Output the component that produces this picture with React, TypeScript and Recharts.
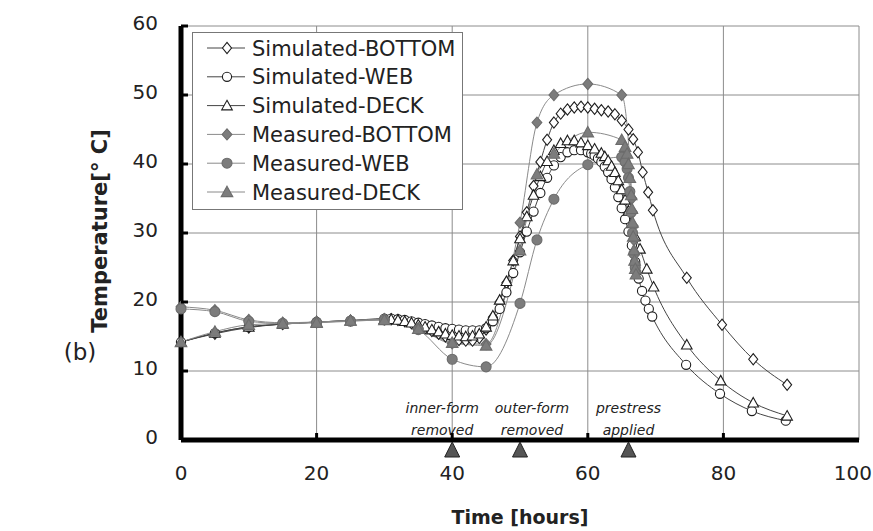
import React from 'react';
import { ComposedChart, Line, Scatter, XAxis, YAxis, CartesianGrid } from 'recharts';

const FONT = '"DejaVu Sans", Verdana, sans-serif';

// ---------- data ----------
const xTicks = [0, 20, 40, 60, 80, 100];
const yTicks = [0, 10, 20, 30, 40, 50, 60];

const seriesNames = [
  'Simulated-BOTTOM',
  'Simulated-WEB',
  'Simulated-DECK',
  'Measured-BOTTOM',
  'Measured-WEB',
  'Measured-DECK',
];

const simBottomHours = [0, 5, 10, 15, 20, 25, 30, 31, 32, 33, 34, 35, 36, 37, 38, 39, 40, 41, 42, 43, 44, 45, 46, 47, 48, 49, 50, 51, 52, 53, 54, 55, 56, 57, 58, 59, 60, 61, 62, 63, 64, 65, 66, 66.7, 67.4, 68.1, 68.9, 69.6, 74.6, 79.8, 84.4, 89.4];
const simBottomTemps = [14.2, 15.4, 16.3, 16.8, 17.1, 17.3, 17.5, 17.5, 17.4, 17.2, 16.9, 16.6, 16.2, 15.8, 15.4, 15.0, 14.7, 14.5, 14.4, 14.4, 14.8, 16.0, 17.8, 20.0, 22.8, 26.0, 29.5, 33.0, 36.8, 40.3, 43.5, 46.0, 47.3, 47.9, 48.2, 48.3, 48.2, 48.0, 47.8, 47.6, 47.2, 46.3, 45.0, 43.6, 41.7, 38.8, 35.9, 33.3, 23.5, 16.7, 11.7, 8.0];

const simWebHours = [0, 5, 10, 15, 20, 25, 30, 31, 32, 33, 34, 35, 36, 37, 38, 39, 40, 41, 42, 43, 44, 45, 46, 47, 48, 49, 50, 51, 52, 53, 54, 55, 56, 57, 58, 59, 60, 60.5, 61, 61.5, 62, 62.5, 63, 63.5, 64, 64.5, 65, 65.5, 66, 66.5, 67, 67.5, 68, 68.5, 69, 69.5, 74.5, 79.5, 84.2, 89.2];
const simWebTemps = [14.2, 15.5, 16.4, 16.8, 17.1, 17.3, 17.6, 17.6, 17.5, 17.4, 17.2, 17.0, 16.8, 16.6, 16.4, 16.2, 16.1, 16.0, 15.9, 15.9, 15.9, 16.2, 17.2, 19.0, 21.4, 24.2, 27.2, 30.2, 33.1, 35.8, 38.0, 39.8, 41.0, 41.7, 42.0, 42.0, 41.7, 41.5, 41.2, 40.8, 40.3, 39.6, 38.8, 37.8, 36.6, 35.2, 33.6, 32.0, 30.2, 28.2, 25.8, 23.4, 21.6, 20.2, 19.0, 17.9, 10.9, 6.7, 4.2, 2.8];

const simDeckHours = [0, 5, 10, 15, 20, 25, 30, 31, 32, 33, 34, 35, 36, 37, 38, 39, 40, 41, 42, 43, 44, 45, 46, 47, 48, 49, 50, 51, 52, 53, 54, 55, 56, 57, 58, 59, 60, 61, 62, 62.5, 63, 63.5, 64, 64.5, 65, 65.5, 66, 66.5, 67, 67.7, 68.7, 69.7, 74.6, 79.6, 84.4, 89.4];
const simDeckTemps = [14.2, 15.5, 16.4, 16.8, 17.1, 17.3, 17.5, 17.5, 17.4, 17.2, 17.0, 16.7, 16.4, 16.0, 15.7, 15.4, 15.2, 15.1, 15.0, 15.1, 15.4, 16.4, 18.0, 20.3, 23.0, 26.0, 29.2, 32.4, 35.5, 38.2, 40.4, 42.0, 43.0, 43.4, 43.4, 43.1, 42.7, 42.2, 41.6, 41.1, 40.5, 39.7, 38.8, 37.6, 36.3, 34.8, 33.2, 31.4, 29.5, 27.7, 24.8, 22.2, 13.8, 8.6, 5.4, 3.5];

const measBottomHours = [0, 5, 10, 15, 20, 25, 30, 35, 40, 45, 50, 52.5, 55, 60, 65, 66.5, 66.6, 66.7, 66.8, 66.9, 67.0, 67.1];
const measBottomTemps = [19.3, 18.8, 17.4, 17.0, 17.1, 17.3, 17.5, 16.2, 14.0, 13.9, 31.5, 46.0, 50.0, 51.6, 50.0, 35.0, 33.0, 31.0, 29.0, 27.0, 25.5, 24.5];

const measWebHours = [0, 5, 10, 15, 20, 25, 30, 35, 40, 45, 50, 52.5, 55, 60, 65, 65.5, 65.8, 66.0, 66.2, 66.4, 66.6, 66.8, 67.0];
const measWebTemps = [19.0, 18.6, 17.2, 16.9, 17.0, 17.2, 17.4, 16.0, 11.7, 10.6, 19.8, 29.0, 34.9, 39.9, 41.0, 40.3, 39.3, 38.0, 36.0, 33.0, 30.0, 27.0, 25.0];

const measDeckHours = [0, 5, 10, 15, 20, 25, 30, 35, 40, 45, 50, 52.5, 55, 60, 65, 65.5, 65.8, 66.0, 66.2, 66.4, 66.5, 66.6, 66.7, 66.8, 66.9, 67.0, 67.1];
const measDeckTemps = [14.2, 15.7, 16.7, 16.9, 17.0, 17.3, 17.4, 16.1, 14.1, 13.7, 27.5, 38.5, 41.5, 44.6, 43.5, 42.5, 41.5, 40.0, 38.0, 35.5, 33.5, 31.5, 29.5, 27.5, 26.0, 24.8, 24.0];

const eventHours = [40, 50, 66];
const eventLabels = [
  ['inner-form', 'removed'],
  ['outer-form', 'removed'],
  ['prestress', 'applied'],
];

// ---------- styling ----------
const seriesShapes = ['diamond', 'circle', 'triangle', 'diamond', 'circle', 'triangle'];
const seriesFilled = [false, false, false, true, true, true];
const eventLabelDx = [-10, 12, 0];

const SIM_STROKE = '#1e1e1e';
const SIM_LINE = '#444';
const MEAS_FILL = '#7c7c7c';
const MEAS_STROKE = '#6c6c6c';
const MEAS_LINE = '#8a8a8a';

const zip = (h: number[], v: number[]) => h.map((t, i) => ({ t, v: v[i] }));
const seriesData = [
  zip(simBottomHours, simBottomTemps),
  zip(simWebHours, simWebTemps),
  zip(simDeckHours, simDeckTemps),
  zip(measBottomHours, measBottomTemps),
  zip(measWebHours, measWebTemps),
  zip(measDeckHours, measDeckTemps),
];
const eventData = eventHours.map((t, i) => ({ t, v: 0, i }));

function Marker({ shape, filled, cx, cy }: { shape: string; filled: boolean; cx: number; cy: number }) {
  if (cx == null || cy == null || isNaN(cx) || isNaN(cy)) return null;
  const fill = filled ? MEAS_FILL : '#fff';
  const stroke = filled ? MEAS_STROKE : SIM_STROKE;
  const sw = 1.1;
  if (shape === 'circle') {
    return <circle cx={cx} cy={cy} r={filled ? 5 : 4.6} fill={fill} stroke={stroke} strokeWidth={sw} />;
  }
  if (shape === 'diamond') {
    const h = 5.6;
    const w = filled ? 4.9 : 4.5;
    return <path d={`M${cx},${cy - h}L${cx + w},${cy}L${cx},${cy + h}L${cx - w},${cy}Z`} fill={fill} stroke={stroke} strokeWidth={sw} />;
  }
  const s = filled ? 5.8 : 5.3;
  return <path d={`M${cx},${cy - s}L${cx + s},${cy + s * 0.8}L${cx - s},${cy + s * 0.8}Z`} fill={fill} stroke={stroke} strokeWidth={sw} />;
}

const XTick = (p: any) => {
  const v = p.payload.value;
  const last = v === 100;
  return (
    <g>
      {v > 0 && v < 100 && <line x1={p.x} x2={p.x} y1={p.y - 25} y2={p.y - 32} stroke="#000" strokeWidth={3} />}
      <text
        x={last ? p.x + 13 : p.x}
        y={p.y + 15}
        textAnchor={last ? 'end' : 'middle'}
        fontSize={20}
        fontFamily={FONT}
        fill="#222"
      >
        {v}
      </text>
    </g>
  );
};

const YTick = (p: any) => {
  const v = p.payload.value;
  return (
    <g>
      {v > 0 && <line x1={p.x + 23} x2={p.x + 30} y1={p.y} y2={p.y} stroke="#000" strokeWidth={3} />}
      <text x={p.x} y={p.y + 4} textAnchor="end" fontSize={20} fontFamily={FONT} fill="#222">{v}</text>
    </g>
  );
};

const EventMark = (p: any) => {
  const { cx, cy } = p;
  const i = p.payload?.i ?? p.i ?? 0;
  const dx = eventLabelDx[i];
  const lines = eventLabels[i];
  return (
    <g>
      <path d={`M${cx},${cy + 2}L${cx + 7.5},${cy + 17}L${cx - 7.5},${cy + 17}Z`} fill="#555" stroke="#222" strokeWidth={1} />
      <text x={cx + dx} y={cy - 27} textAnchor="middle" fontSize={14} fontStyle="italic" fontFamily={FONT} fill="#222">{lines[0]}</text>
      <text x={cx + dx} y={cy - 5} textAnchor="middle" fontSize={14} fontStyle="italic" fontFamily={FONT} fill="#222">{lines[1]}</text>
    </g>
  );
};

export default function App() {
  return (
    <div style={{ position: 'absolute', left: 0, top: 0, width: 873, height: 531, background: '#fff', fontFamily: FONT }}>
      <ComposedChart width={873} height={531} margin={{ top: 26, right: 14, bottom: 31, left: 0 }}>
        <CartesianGrid stroke="#8c8c8c" strokeWidth={1} />
        <XAxis
          type="number"
          dataKey="t"
          domain={[0, 100]}
          ticks={xTicks}
          height={60}
          tickSize={0}
          tickMargin={25}
          tickLine={false}
          tick={XTick}
          axisLine={{ stroke: '#000', strokeWidth: 5 }}
          allowDuplicatedCategory={false}
        />
        <YAxis
          type="number"
          domain={[0, 60]}
          ticks={yTicks}
          width={181}
          tickSize={0}
          tickMargin={23}
          tickLine={false}
          tick={YTick}
          axisLine={{ stroke: '#000', strokeWidth: 5 }}
        />
        {seriesData.map((d, idx) => (
          <Line
            key={seriesNames[idx]}
            name={seriesNames[idx]}
            data={d}
            dataKey="v"
            type="monotone"
            stroke={seriesFilled[idx] ? MEAS_LINE : SIM_LINE}
            strokeWidth={1}
            isAnimationActive={false}
            dot={(p: any) => (
              <Marker key={`m-${idx}-${p.index}`} shape={seriesShapes[idx]} filled={seriesFilled[idx]} cx={p.cx} cy={p.cy} />
            )}
            activeDot={false}
          />
        ))}
        <Scatter data={eventData} dataKey="v" shape={EventMark} isAnimationActive={false} />
      </ComposedChart>
      <svg width={873} height={531} style={{ position: 'absolute', left: 0, top: 0, pointerEvents: 'none' }}>
        <text x={80} y={360} textAnchor="middle" fontSize={23} fontFamily={FONT} fill="#222">(b)</text>
        <text
          x={0}
          y={0}
          transform="translate(107,231) rotate(-90)"
          textAnchor="middle"
          fontSize={21}
          fontWeight="bold"
          fontFamily={FONT}
          fill="#222"
        >
          Temperature[° C]
        </text>
        <text x={520} y={524} textAnchor="middle" fontSize={19} fontWeight="bold" fontFamily={FONT} fill="#222">
          Time [hours]
        </text>
        <g transform="translate(192,32)">
          <rect x={0.5} y={0.5} width={270} height={177} fill="#fff" stroke="#777" strokeWidth={1} />
          {seriesNames.map((n, i) => {
            const cy = 16 + i * 28.8;
            return (
              <g key={n}>
                <line x1={15} x2={53} y1={cy} y2={cy} stroke={seriesFilled[i] ? MEAS_LINE : SIM_LINE} strokeWidth={1} />
                <Marker shape={seriesShapes[i]} filled={seriesFilled[i]} cx={35} cy={cy} />
                <text x={60} y={cy + 7.5} fontSize={21} fontFamily={FONT} fill="#222">{n}</text>
              </g>
            );
          })}
        </g>
      </svg>
    </div>
  );
}
